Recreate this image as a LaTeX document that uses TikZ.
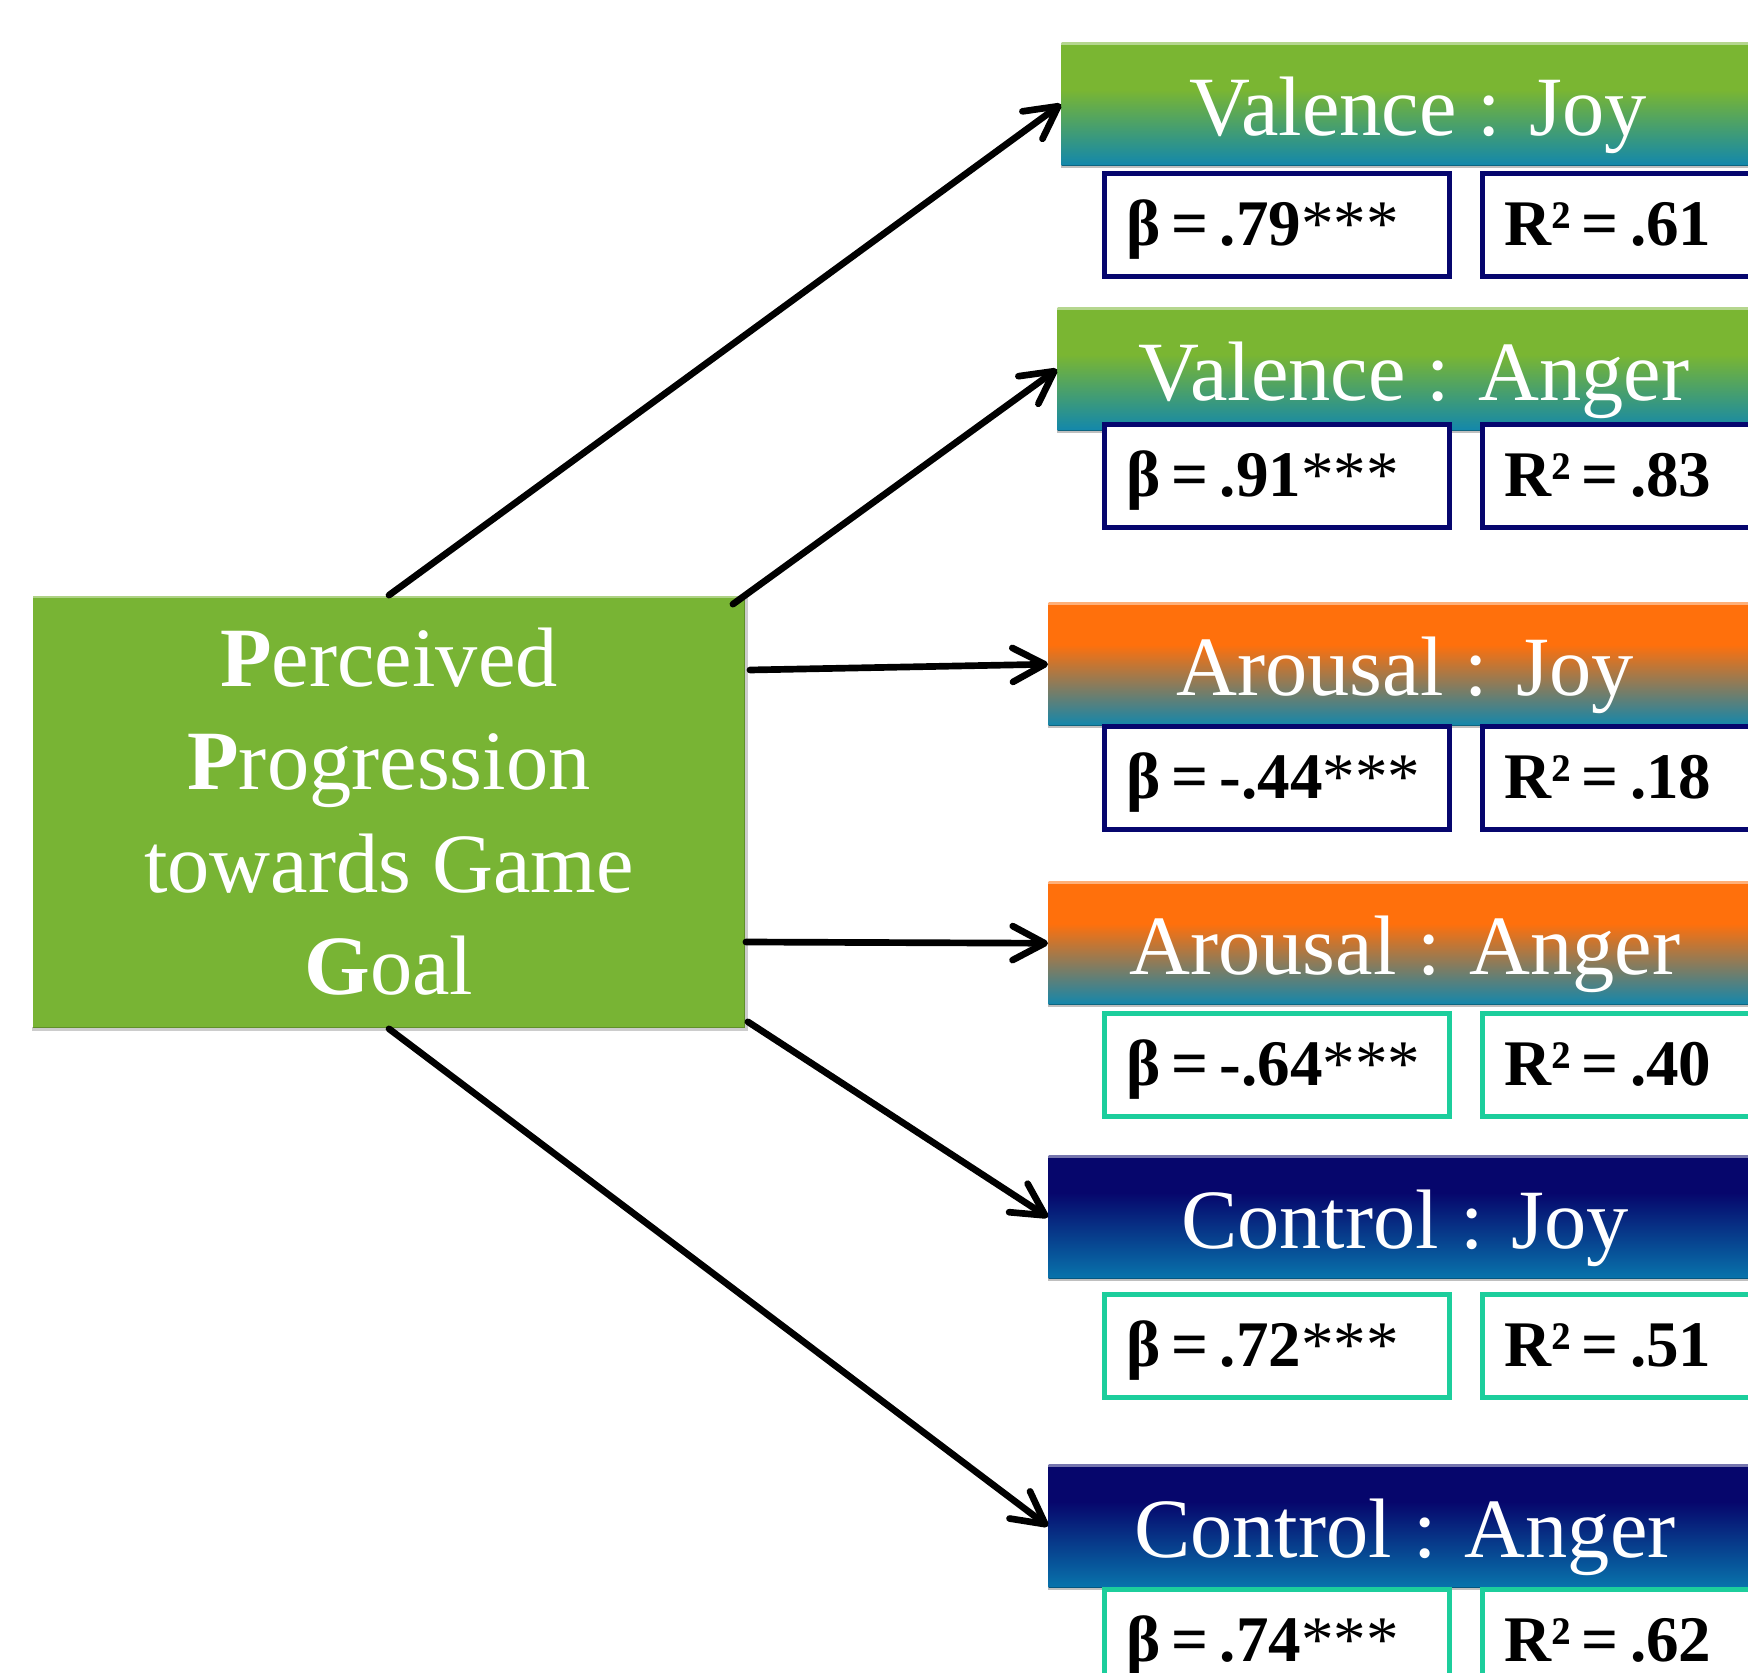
\documentclass[tikz,border=0pt]{standalone}
\usepackage{fontspec}
\setmainfont{Liberation Serif}
\usetikzlibrary{arrows.meta}
\usetikzlibrary{calc}

\definecolor{ppggreen}{RGB}{120,180,52}
\definecolor{valtop}{RGB}{122,182,50}
\definecolor{arotop}{RGB}{255,112,12}
\definecolor{ctltop}{RGB}{6,6,108}
\definecolor{tealbot}{RGB}{18,135,172}
\definecolor{ctlbot}{RGB}{8,116,172}
\definecolor{navyline}{RGB}{6,6,110}
\definecolor{tealline}{RGB}{28,206,156}

% vertical shadings for the outcome headers (path = 25bp..75bp)
\pgfdeclareverticalshading{valshade}{100bp}{color(0bp)=(tealbot); color(25bp)=(tealbot); color(56bp)=(valtop); color(100bp)=(valtop)}
\pgfdeclareverticalshading{aroshade}{100bp}{color(0bp)=(tealbot); color(25bp)=(tealbot); color(58bp)=(arotop); color(100bp)=(arotop)}
\pgfdeclareverticalshading{ctlshade}{100bp}{color(0bp)=(ctlbot); color(25bp)=(ctlbot); color(60bp)=(ctltop); color(100bp)=(ctltop)}

% tight spacing round the equals sign
\newcommand{\tighteq}{\kern0.17em=\kern0.17em}

\tikzset{
  ppgbox/.style={rectangle, fill=ppggreen, minimum width=7.12cm, minimum height=4.32cm,
    align=center, text=white, font=\fontsize{24}{29.2}\selectfont, inner sep=0pt},
  hdr/.style={rectangle, anchor=north west, minimum width=7.12cm, minimum height=1.23cm,
    inner sep=0pt, text=white, font=\fontsize{24}{28}\selectfont,
    text height=22pt, text depth=4.4pt},
  statbox/.style={rectangle, anchor=north west, fill=white, line width=1.4pt,
    minimum height=1.03cm, inner xsep=0.22cm, inner ysep=0pt, align=left,
    font=\fontsize{18.5}{22}\selectfont\bfseries,
    text height=14pt, text depth=2.3pt},
  link/.style={->, line width=1.9pt, line cap=round},
}

\begin{document}
\begin{tikzpicture}[x=0.01cm, y=-0.01cm, >={Straight Barb[round,length=3.2mm,width=3.4mm]}]

% --- frame (pixel units, y downwards) -----------------------------
\useasboundingbox (0,0) rectangle (1748,1673);
\clip (0,0) rectangle (1748,1673);

% --- predictor -----------------------------------------------------
\node[ppgbox] (ppg) at (389,812)
  {\textbf{P}erceived\\\textbf{P}rogression\\towards Game\\\textbf{G}oal};
\draw[white, opacity=0.4, line width=1.5pt] (ppg.north west) -- (ppg.north east);
\draw[black, opacity=0.2, line width=1pt] (ppg.north east) -- (ppg.south east) -- (ppg.south west);

% === outcome headers ==============================================
\node[hdr, shading=valshade] (valjoy) at (1061,42)   {Valence : Joy};
\node[hdr, shading=valshade] (valang) at (1057,307)  {Valence : Anger};
\node[hdr, shading=aroshade] (arojoy) at (1048,602)  {Arousal : Joy};
\node[hdr, shading=aroshade] (aroang) at (1048,881)  {Arousal : Anger};
\node[hdr, shading=ctlshade] (ctljoy) at (1048,1155) {Control : Joy};
\node[hdr, shading=ctlshade] (ctlang) at (1048,1464) {Control : Anger};

% bevel edges
\foreach \h in {valjoy,valang,arojoy,aroang,ctljoy,ctlang}{
  \draw[white, opacity=0.45, line width=1.5pt] (\h.north west) -- (\h.north east);
  \draw[black, opacity=0.25, line width=1pt] (\h.south west) -- (\h.south east);
}

% === beta / R^2 boxes =============================================
\foreach \n/\y/\c/\b/\r in {
    1/171/navyline/.79/.61,
    2/422/navyline/.91/.83,
    3/724/navyline/-.44/.18,
    4/1011/tealline/-.64/.40,
    5/1292/tealline/.72/.51,
    6/1587/tealline/.74/.62}{
  \node[statbox, draw=\c, text width=3.01cm] (beta\n) at (1102,\y) {\mbox{β\tighteq\b\textmd{***}}};
  \node[statbox, draw=\c, text width=2.6cm]  (rsq\n)  at (1480,\y) {\mbox{R²\tighteq\r}};
}

% === paths ========================================================
\draw[link] (ppg.north) -- (valjoy.west);
\draw[link] ([shift={(-13,9)}]ppg.north east) -- (valang.west);
\draw[link] ([shift={(4,-142)}]ppg.east) -- (arojoy.west);
\draw[link] ([shift={(0,130)}]ppg.east) -- (aroang.west);
\draw[link] ([shift={(2,-7)}]ppg.south east) -- (ctljoy.west);
\draw[link] (ppg.south) -- (ctlang.west);

\end{tikzpicture}
\end{document}
